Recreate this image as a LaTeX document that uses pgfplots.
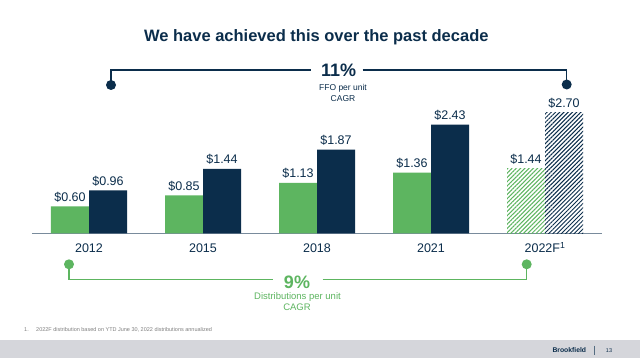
\documentclass[border=0pt]{standalone}
\usepackage{pgfplots}
\pgfplotsset{compat=1.18}
\usetikzlibrary{patterns.meta}
\usepackage{fontspec}
\setmainfont{Liberation Sans}
\definecolor{navy}{RGB}{11,45,75}
\definecolor{bgreen}{RGB}{93,181,96}
\definecolor{band}{RGB}{213,214,219}
\begin{document}
\begin{tikzpicture}
\useasboundingbox (0pt,0pt) rectangle (640pt,-358pt);
\fill[white] (0pt,0pt) rectangle (640pt,-358pt);
\fill[band] (0pt,-340pt) rectangle (640pt,-358pt);
\begin{axis}[
  at={(32pt,-233.3pt)}, anchor=south west,
  scale only axis, width=570pt, height=134.1pt,
  xmin=-0.5, xmax=4.5, ymin=0, ymax=3,
  axis x line*=bottom, axis y line=none,
  x axis line style={draw=navy!55, line width=0.8pt},
  ybar=0pt, bar width=38pt,
  xtick={0,1,2,3,4}, xticklabels={2012,2015,2018,2021,2022F\textsuperscript{1}},
  major tick length=0pt,
  xticklabel style={font=\fontsize{12.5}{14}\selectfont, text=navy, anchor=base, inner sep=0pt, yshift=-19.4pt},
  nodes near coords={\$\pgfmathprintnumber[fixed,fixed zerofill,precision=2,assume math mode=true]{\pgfplotspointmeta}},
  every node near coord/.append style={font=\fontsize{12.5}{14}\selectfont, text=navy, anchor=south, inner sep=0pt, yshift=4pt},
  clip=false,
]
\addplot[fill=bgreen, draw=none, bar shift=-19pt] coordinates {(0,0.60) (1,0.85) (2,1.13) (3,1.36)};
\addplot[fill=navy, draw=none, bar shift=19pt] coordinates {(0,0.96) (1,1.44) (2,1.87) (3,2.43)};
\addplot[draw=none, pattern={Lines[angle=45,distance=3pt,line width=1pt]}, pattern color=bgreen, bar shift=-19pt] coordinates {(4,1.44)};
\addplot[draw=none, pattern={Lines[angle=45,distance=3pt,line width=1pt]}, pattern color=navy, bar shift=19pt] coordinates {(4,2.70)};
\end{axis}
\node[anchor=base, font=\bfseries\fontsize{16.5}{18}\selectfont, text=navy] at (316.3pt,-41.7pt) {We have achieved this over the past decade};
% top bracket
\draw[navy, line width=1.3pt] (111pt,-85pt) -- (111pt,-70pt) -- (310.7pt,-70pt);
\draw[navy, line width=1.3pt] (362.7pt,-70pt) -- (566.7pt,-70pt) -- (566.7pt,-84.5pt);
\fill[navy] (111pt,-85pt) circle (5pt);
\fill[navy] (566.7pt,-84.5pt) circle (5pt);
\node[anchor=base, font=\bfseries\fontsize{18}{19}\selectfont, text=navy] at (338.7pt,-76.5pt) {11\%};
\node[anchor=base, font=\fontsize{8.5}{10}\selectfont, text=navy] at (343pt,-90.3pt) {FFO per unit};
\node[anchor=base, font=\fontsize{8.5}{10}\selectfont, text=navy] at (343pt,-101.3pt) {CAGR};
% bottom bracket
\draw[bgreen, line width=1.3pt] (69pt,-264.3pt) -- (69pt,-279.3pt) -- (272.7pt,-279.3pt);
\draw[bgreen, line width=1.3pt] (322.7pt,-279.3pt) -- (526.7pt,-279.3pt) -- (526.7pt,-264.3pt);
\fill[bgreen] (69pt,-264.3pt) circle (5pt);
\fill[bgreen] (526.7pt,-264.3pt) circle (5pt);
\node[anchor=base, font=\bfseries\fontsize{18}{19}\selectfont, text=bgreen] at (297pt,-288.5pt) {9\%};
\node[anchor=base, font=\fontsize{9.5}{11}\selectfont, text=bgreen] at (297.5pt,-299pt) {Distributions per unit};
\node[anchor=base, font=\fontsize{9.5}{11}\selectfont, text=bgreen] at (297pt,-310pt) {CAGR};
% footnote
\node[anchor=base west, font=\fontsize{5.5}{6}\selectfont, text=gray, inner sep=0pt] at (24pt,-331.5pt) {1.};
\node[anchor=base west, font=\fontsize{5.5}{6}\selectfont, text=gray, inner sep=0pt] at (36pt,-331.5pt) {2022F distribution based on YTD June 30, 2022 distributions annualized};
% footer
\node[anchor=base west, font=\bfseries\fontsize{6.8}{8}\selectfont, text=navy, inner sep=0pt] at (552.3pt,-352.5pt) {Brookfield};
\draw[navy!70, line width=0.6pt] (594.3pt,-345.5pt) -- (594.3pt,-354.5pt);
\node[anchor=base, font=\fontsize{5.5}{6}\selectfont, text=navy, inner sep=0pt] at (609pt,-352.5pt) {13};
\end{tikzpicture}
\end{document}
